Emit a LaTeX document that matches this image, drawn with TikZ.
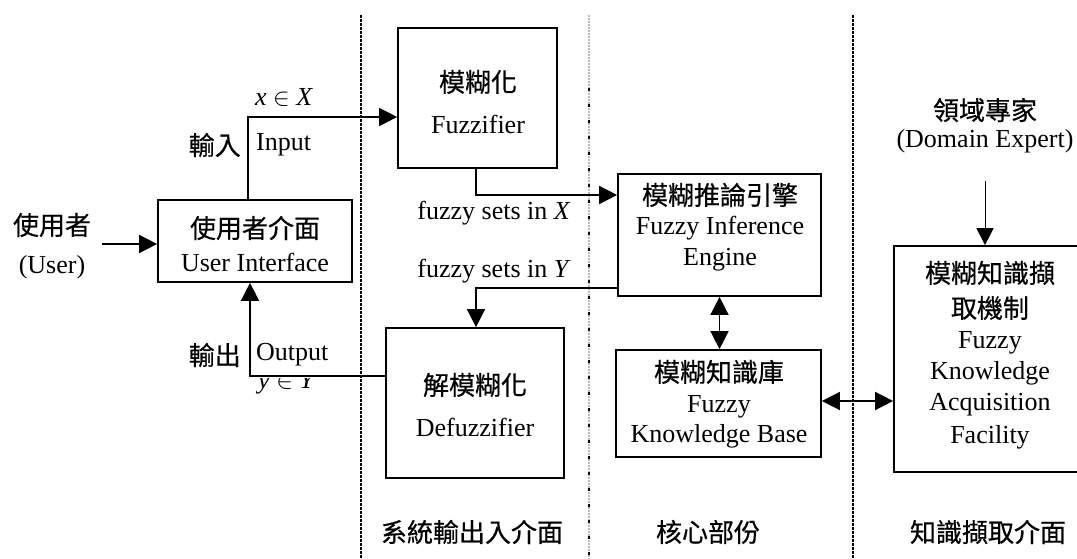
\documentclass[tikz,border=0pt]{standalone}
\usepackage{fontspec}
\setmainfont{Liberation Serif}
\newfontfamily\cjk[FakeBold=0.5]{Noto Sans CJK TC}
\usetikzlibrary{arrows.meta}
\tikzset{
  box/.style={draw, line width=1.7pt, inner sep=0pt},
  cj/.style={font=\cjk\fontsize{26}{30}\selectfont, inner sep=0pt},
  en/.style={font=\fontsize{26}{30}\selectfont, inner sep=0pt},
  conn/.style={line width=1.5pt},
  arr/.style={conn, -{Triangle[length=18pt,width=18pt]}},
  darr/.style={conn, {Triangle[length=18pt,width=18pt]}-{Triangle[length=18pt,width=18pt]}},
  thinarr/.style={line width=1pt, -{Triangle[length=17pt,width=17pt]}},
  sep/.style={line width=2.6pt, dash pattern=on 3pt off 1pt},
}
\begin{document}
\begin{tikzpicture}[x=1pt,y=-1pt]
\useasboundingbox (0,0) rectangle (1077,559);
\clip (0,0) rectangle (1077,559);
% separators
\draw[sep] (361,15) -- (361,559);
\draw[sep] (853,15) -- (853,559);
\draw[line width=1.2pt, gray!55, dash pattern=on 2pt off 1pt] (589,15) -- (589,559);
\draw[line width=2.6pt, dash pattern=on 3pt off 13pt] (589,88) -- (589,559);
% boxes
\node[box, minimum width=194pt, minimum height=82pt] (ui) at (255,241) {};
\node[box, minimum width=159pt, minimum height=140pt] (fuzz) at (477.5,98) {};
\node[box, minimum width=203pt, minimum height=122pt] (eng) at (719.5,235) {};
\node[box, minimum width=205pt, minimum height=107pt] (kb) at (718.5,403.5) {};
\node[box, minimum width=178pt, minimum height=150pt] (defuzz) at (475,403) {};
\node[box, minimum width=192pt, minimum height=226pt] (acq) at (990,359) {};
% texts
\node[cj] (tUser) at (52,225) {使用者};
\node[en] (tUserE) at (52,267) {(User)};
\node[cj] at (255,228) {使用者介面};
\node[en] at (255,262) {User Interface};
\node[cj] at (478,82) {模糊化};
\node[en] at (478,124) {Fuzzifier};
\node[cj] at (720,195) {模糊推論引擎};
\node[en] at (720,228) {Fuzzy Inference};
\node[en] at (720,260) {Engine};
\node[cj] at (719,372) {模糊知識庫};
\node[en] at (719,407) {Fuzzy};
\node[en] at (719,436) {Knowledge Base};
\node[cj] at (475,385) {解模糊化};
\node[en] at (475,427) {Defuzzifier};
\node[cj] at (990,273) {模糊知識擷};
\node[cj] at (990,308) {取機制};
\node[en] at (990,343) {Fuzzy};
\node[en] at (990,373) {Knowledge};
\node[en] at (990,405) {Acquisition};
\node[en] at (990,437) {Facility};
\node[cj] (tDom) at (985,110) {領域專家};
\node[en] (tDomE) at (985,141) {(Domain Expert)};
\node[cj, anchor=east] at (241,145) {輸入};
\node[en, anchor=west] at (256,145) {Input};
\node[cj, anchor=east] at (241,355) {輸出};
\node[en, anchor=west] at (256,355) {Output};
\node[en, anchor=west] at (255,97) {\textit{x} $\in$ \textit{X}};
\begin{scope}
\clip (250,378) rectangle (360,410);
\node[en, anchor=west] at (258,383) {\textit{y} $\in$ \textit{Y}};
\end{scope}
\node[en] at (494,213) {fuzzy sets in \textit{X}};
\node[en] at (494,271) {fuzzy sets in \textit{Y}};
\node[cj] at (472,532) {系統輸出入介面};
\node[cj] at (708,532) {核心部份};
\node[cj] at (988,532) {知識擷取介面};
% connectors
\coordinate (ustart) at (102,244);
\coordinate (inp) at (248,117);
\coordinate (outp) at (250,376);
\coordinate (fx) at (476,195);
\coordinate (fy) at (476,288);
\coordinate (dstart) at (985,181);
\draw[arr] (ustart) -- (ui.west |- ustart);
\draw[arr] (ui.north -| inp) |- (fuzz.west |- inp);
\draw[arr] (defuzz.west |- outp) -| (ui.south -| outp);
\draw[arr] (fuzz.south -| fx) |- (eng.west |- fx);
\draw[arr] (eng.west |- fy) -| (defuzz.north -| fy);
\draw[darr] (eng.south) -- (kb.north -| eng.south);
\draw[darr] (kb.east |- 0,401) -- (acq.west |- 0,401);
\draw[thinarr] (dstart) -- (acq.north -| dstart);
\end{tikzpicture}
\end{document}
